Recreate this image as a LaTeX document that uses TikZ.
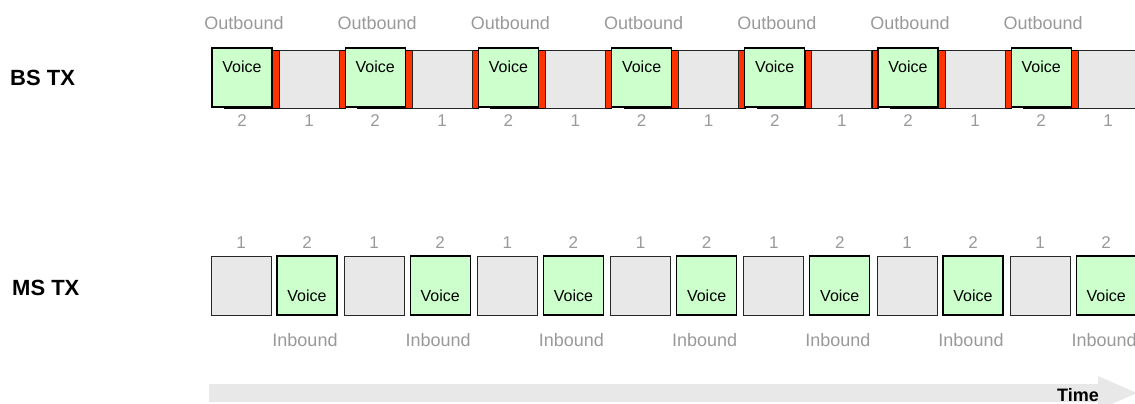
\documentclass[tikz,border=0pt]{standalone}
\usepackage{fontspec}
\setmainfont{Liberation Sans}
\definecolor{voicegreen}{HTML}{CCFFCC}
\definecolor{slotgray}{HTML}{E8E8E8}
\definecolor{guardred}{HTML}{FF3300}
\definecolor{labelgray}{HTML}{999999}
\definecolor{arrowgray}{HTML}{E8E8E8}
\begin{document}
\begin{tikzpicture}[x=1bp,y=-1bp,
  voicebox/.style={draw=black,line width=1.1bp,fill=voicegreen},
  slotbox/.style={draw=black!85,line width=0.9bp,fill=slotgray},
  guard/.style={draw=black,line width=0.6bp,fill=guardred},
  lbl/.style={text=labelgray,font=\fontsize{18bp}{20bp}\selectfont,inner sep=0pt},
  num/.style={text=labelgray,font=\fontsize{17bp}{19bp}\selectfont,inner sep=0pt},
  vtxt/.style={font=\fontsize{16bp}{18bp}\selectfont,inner sep=0pt},
  rowlbl/.style={font=\bfseries\fontsize{22bp}{24bp}\selectfont,inner sep=0pt,anchor=west}]
\useasboundingbox (0,0) rectangle (1135,403);
\begin{scope}
\clip (0,0) rectangle (1135,403);
% Time arrow
\fill[arrowgray] (209,384) -- (1098,384) -- (1098,376) -- (1137,393) -- (1098,410) -- (1098,402) -- (209,402) -- cycle;
\node[font=\bfseries\fontsize{18bp}{20bp}\selectfont,inner sep=0pt] (time) at (1078,395) {Time};
% Top row (BS TX)
\foreach \i in {0,...,6}{
  \pgfmathsetmacro{\xo}{212+133.2*\i}
  \draw[guard] (\xo+60,50) rectangle (\xo+67,108);
  \draw[guard] (\xo+127,50) rectangle (\xo+133.2,108);
  \draw[slotbox] (\xo+67,50) rectangle (\xo+127,108);
  \draw[black,line width=1bp] (\xo+12,108) -- (\xo+60,108);
  \draw[voicebox] (\xo,48) rectangle (\xo+60,107);
  \node[vtxt] (tv\i) at (\xo+30,67) {Voice};
  \node[lbl] (out\i) at (\xo+32,23) {Outbound};
  \node[num] (tn2\i) at (\xo+30,121) {2};
  \node[num] (tn1\i) at (\xo+97,121) {1};
}
% Bottom row (MS TX)
\foreach \i in {0,...,6}{
  \pgfmathsetmacro{\xo}{211+133.2*\i}
  \draw[slotbox] (\xo,256) rectangle (\xo+60,315);
  \draw[voicebox] (\xo+66,256) rectangle (\xo+126,315);
  \node[vtxt] (bv\i) at (\xo+96,296) {Voice};
  \node[lbl] (in\i) at (\xo+94,340) {Inbound};
  \node[num] (bn1\i) at (\xo+30,243) {1};
  \node[num] (bn2\i) at (\xo+96,243) {2};
}
\end{scope}
\node[rowlbl] (bs) at (10,78) {BS TX};
\node[rowlbl] (ms) at (12,288) {MS TX};
\end{tikzpicture}
\end{document}
